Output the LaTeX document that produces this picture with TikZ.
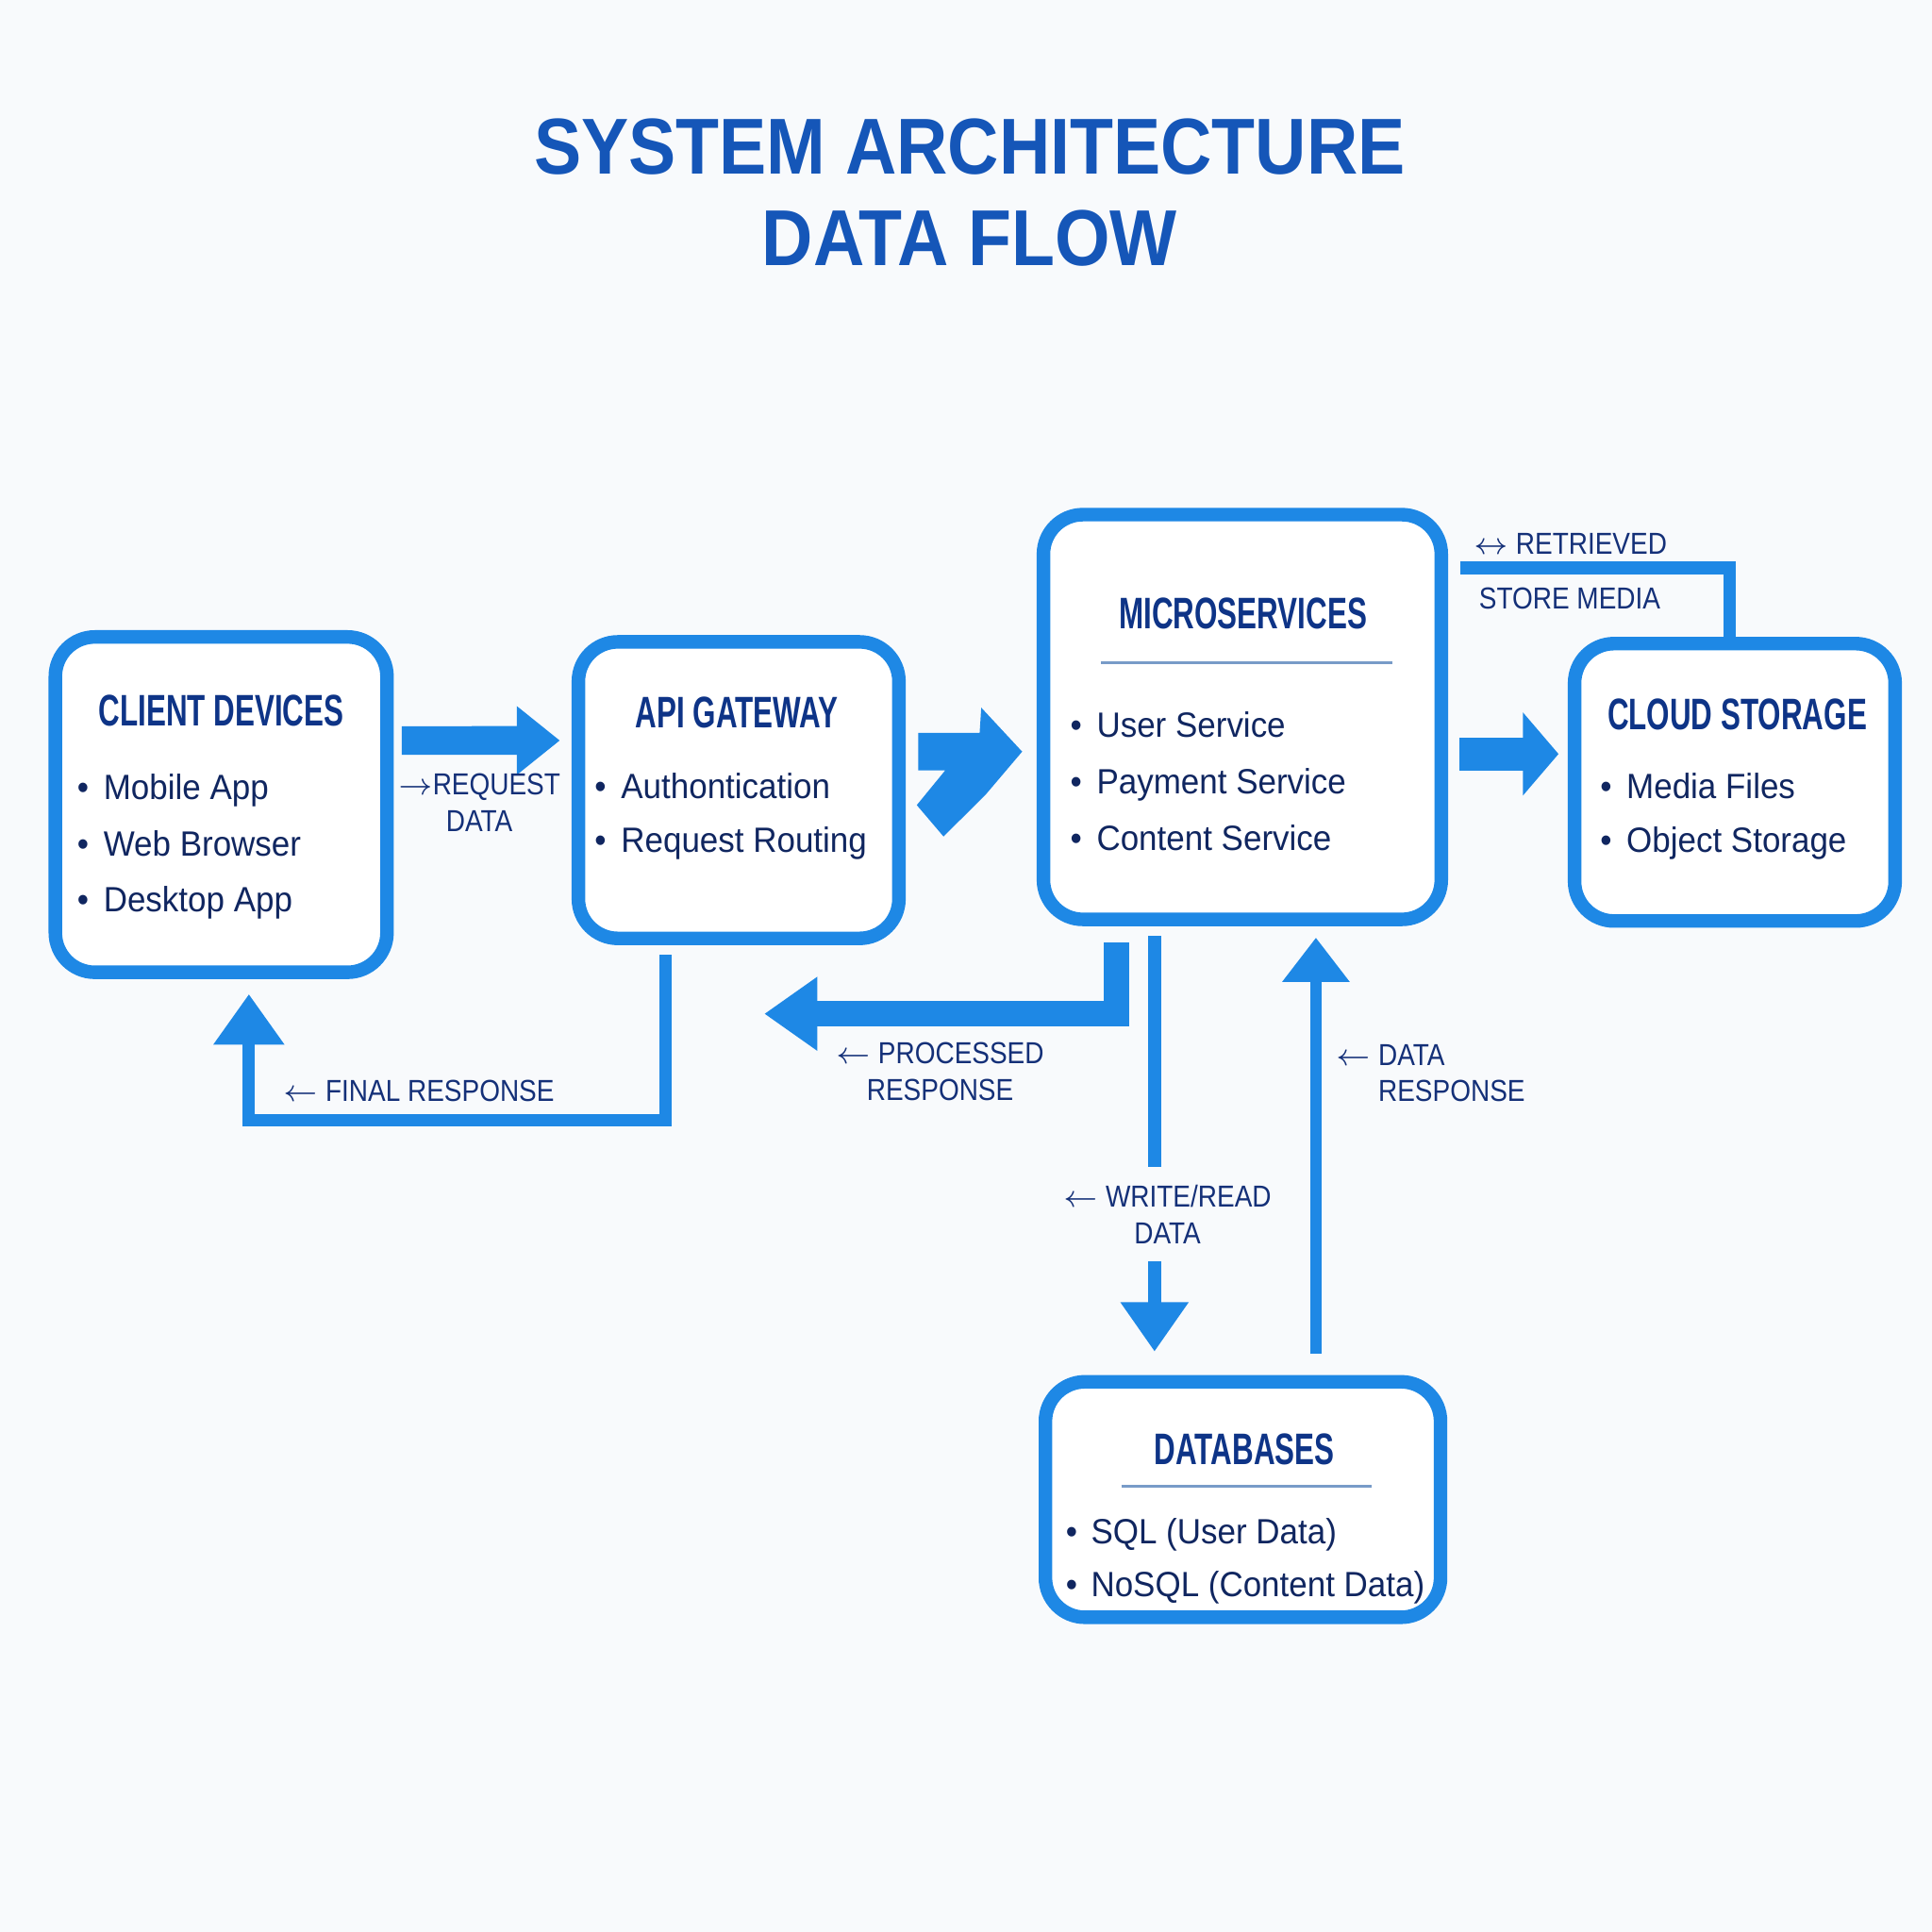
\documentclass[tikz,border=0pt]{standalone}
\usepackage{fontspec}
\setmainfont{Liberation Sans}
\newfontfamily\titlefont[FakeStretch=0.895]{Liberation Sans}
\newfontfamily\headfont[FakeStretch=0.67]{Liberation Sans}
\newfontfamily\itemfont[FakeStretch=0.94]{Liberation Sans}
\newfontfamily\lblfont[FakeStretch=0.87]{Liberation Sans}
\usetikzlibrary{arrows.meta,calc}

\definecolor{flowblue}{RGB}{30,136,229}
\definecolor{titleblue}{RGB}{21,86,184}
\definecolor{headnavy}{RGB}{14,52,135}
\definecolor{textnavy}{RGB}{16,38,96}
\definecolor{lblnavy}{RGB}{20,48,120}
\definecolor{divgray}{RGB}{120,155,200}
\definecolor{paper}{RGB}{248,250,252}

\begin{document}
\begin{tikzpicture}[x=0.01cm, y=-0.01cm,
   box/.style={draw=flowblue, fill=white, line width=0.11cm, rounded corners=0.32cm, inner sep=0pt, outer sep=0pt},
   head/.style={font=\headfont\bfseries\fontsize{10.2}{12}\selectfont, text=headnavy, anchor=base, inner sep=0pt},
   item/.style={font=\itemfont\fontsize{8.1}{9.7}\selectfont, text=textnavy, anchor=base west, inner sep=0pt},
   lbl/.style={font=\lblfont\fontsize{7}{8.42}\selectfont, text=lblnavy, inner sep=0pt},
   flow/.style={draw=flowblue, line cap=butt, line join=miter},
   divider/.style={draw=divgray, line width=0.6pt}]

   \fill[paper] (0,0) rectangle (1568,1568);

   % title
   \node[font=\titlefont\bfseries\fontsize{18.3}{22}\selectfont, text=titleblue, anchor=base, inner sep=0pt] (title1) at (787,141) {SYSTEM ARCHITECTURE};
   \node[font=\titlefont\bfseries\fontsize{18.3}{22}\selectfont, text=titleblue, anchor=base, inner sep=0pt] (title2) at (787,215.7) {DATA FLOW};

   % boxes
   \node[box, minimum width=2.69cm, minimum height=2.72cm] (client) at (179.5,653) {};
   \node[box, minimum width=2.60cm, minimum height=2.405cm] (api) at (599.5,641.25) {};
   \node[box, minimum width=3.227cm, minimum height=3.283cm] (micro) at (1008.3,581.9) {};
   \node[box, minimum width=2.60cm, minimum height=2.25cm] (cloud) at (1408,634.9) {};
   \node[box, minimum width=3.205cm, minimum height=1.91cm] (db) at (1008.8,1217) {};

   \node[head] (clienthead) at (179.5,589.3) {CLIENT DEVICES};
   \foreach \t [count=\i from 0] in {Mobile App, Web Browser, Desktop App}
     \node[item] (client-\i) at (62,{649+45.5*\i}) {\textbullet\hspace{0.12cm}\t};

   \node[head] (apihead) at (598,590.5) {API GATEWAY};
   \foreach \t [count=\i from 0] in {Authontication, Request Routing}
     \node[item] (api-\i) at (482,{648+44*\i}) {\textbullet\hspace{0.12cm}\t};

   \node[head] (microhead) at (1008.8,510.5) {MICROSERVICES};
   \draw[divider] (893.6,538) -- (1130,538);
   \foreach \t [count=\i from 0] in {User Service, Payment Service, Content Service}
     \node[item] (micro-\i) at (868,{598.5+46*\i}) {\textbullet\hspace{0.12cm}\t};

   \node[head] (cloudhead) at (1409.9,592) {CLOUD STORAGE};
   \foreach \t [count=\i from 0] in {Media Files, Object Storage}
     \node[item] (cloud-\i) at (1298,{648+43.5*\i}) {\textbullet\hspace{0.12cm}\t};

   \node[head] (dbhead) at (1010,1188.4) {DATABASES};
   \draw[divider] (910,1206) -- (1113,1206);
   \foreach \t [count=\i from 0] in {{SQL (User Data)}, {NoSQL (Content Data)}}
     \node[item] (db-\i) at (864.4,{1253+43*\i}) {\textbullet\hspace{0.11cm}\t};

   % client -> api
   \draw[flow, line width=0.233cm, -{Triangle[length=0.35cm, width=0.535cm]}]
     ($(client.east)+(12,-52)$) -- ($(api.west)+(-15,-40.3)$);
   \node[lbl, align=center] (reqlbl) at (389,651.4) {$\rightarrow$REQUEST\\DATA};

   % api -> micro
   \begin{scope}[shift={(api.east)}]
     \fill[flowblue] (15.7,-46.55) -- (15.7,-15.95) -- (37.5,-15.95) -- (14.5,12.15)
       -- (36.2,37.65) -- (70.7,3.25) -- (100,-31.25) -- (66.8,-66.95) -- (65.5,-46.55) -- cycle;
   \end{scope}

   % micro -> cloud
   \draw[flow, line width=0.27cm, -{Triangle[length=0.29cm, width=0.66cm]}]
     ($(micro.east)+(15,30)$) -- ($(cloud.west)+(-13,-23)$);
   \draw[flow, line width=0.1cm] ($(micro.east)+(15.3,-121)$) -| ($(cloud.north)+(-4,-5)$);
   \node[lbl, anchor=base west] (retlbl) at (1195.6,450) {$\leftrightarrow$ RETRIEVED};
   \node[lbl, anchor=base west] (storelbl) at (1199.7,494) {STORE MEDIA};

   % micro -> api
   \draw[flow, line width=0.21cm, -{Triangle[length=0.43cm, width=0.57cm]}]
     ($(micro.south)+(-102.3,19)$) |- ($(api.south east)+(-109.3,61.2)$);
   \node[lbl, align=center] (proclbl) at (763,869.5) {$\leftarrow$ PROCESSED\\RESPONSE};

   % api -> client
   \draw[flow, line width=0.1cm, -{Triangle[length=0.41cm, width=0.55cm]}]
     ($(api.south)+(-59.5,13.5)$) -- ++(0,134) -| ($(client.south)+(22.5,17.7)$);
   \node[lbl, anchor=base west] (finallbl) at (229.5,894.2) {$\leftarrow$ FINAL RESPONSE};

   % micro -> db
   \draw[flow, line width=0.11cm, -{Triangle[length=0.40cm, width=0.525cm]}]
     ($(micro.south)+(-71.3,13.6)$) -- node[lbl, align=center, fill=paper, inner ysep=0.145cm, pos=0.67, xshift=3] (wrlbl) {$\leftarrow$ WRITE/READ\\DATA}
     ($(db.north)+(-71.8,-24.5)$);

   % db -> micro
   \draw[flow, line width=0.093cm, -{Triangle[length=0.36cm, width=0.525cm]}]
     ($(db.north)+(59.2,-22.5)$) -- ($(micro.south)+(59.7,14.8)$);
   \node[lbl, align=left, anchor=west] (datalbl) at (1084,871) {$\leftarrow$ DATA\\\phantom{$\leftarrow$\ }RESPONSE};
\end{tikzpicture}
\end{document}
